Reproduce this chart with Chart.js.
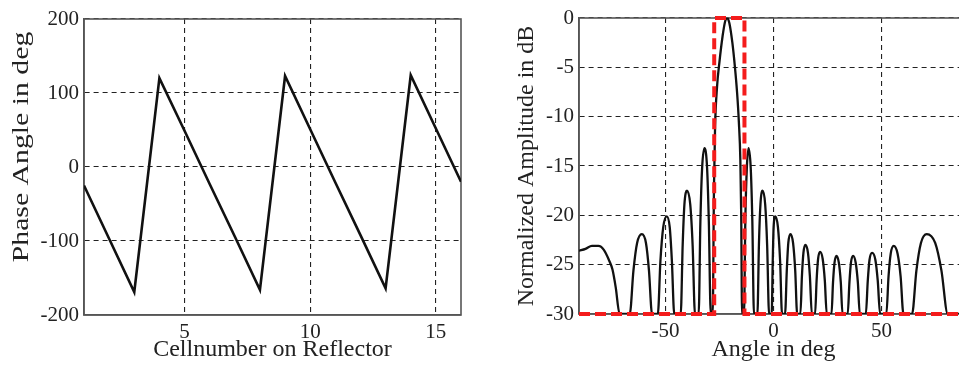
<!DOCTYPE html>
<html><head><meta charset="utf-8">
<script src="https://cdn.jsdelivr.net/npm/chart.js@4/dist/chart.umd.min.js"></script>
<style>
html,body{margin:0;padding:0;background:#fff;overflow:hidden;width:959px;height:367px;position:relative;}
#left{position:absolute;left:0;top:0;width:480px;height:367px;}
#right{position:absolute;left:480px;top:0;width:500px;height:367px;}
</style></head><body>
<div id="left"><canvas id="c1"></canvas></div>
<div id="right"><canvas id="c2"></canvas></div>
<script>
// ---- Left panel data ----
const cellNumbers = [1,2,3,4,5,6,7,8,9,10,11,12,13,14,15,16];
const phaseDeg    = [-25,-97,-169,120,49,-23,-94,-166,123,51,-21,-92,-164,124,52,-20];
const cellTicks   = [5,10,15];
const phaseTicks  = [-200,-100,0,100,200];

// ---- Right panel data ----
const patternAngle = [
  -90,-87,-84,-81,-78.5,-76,-74.5,-73,-71.2,
  -66.5,-64.8,-63.1,-60.9,-59.0,-57.6,-56.2,
  -53.5,-52.3,-51.0,-49.4,-48.0,-47.0,-45.9,
  -42.9,-42.0,-41.2,-40.0,-38.5,-37.4,-36.3,
  -34.6,-33.8,-33.0,-31.9,-30.7,-29.9,-29.0,
  -28.1,-27.5,-27.0,-26.1,-25.0,-23.5,-22.3,-21.4,-20.4,-19.0,-17.8,-16.8,-16.0,-15.3,-14.9,-14.5,
  -13.6,-13.0,-12.3,-11.5,-10.5,-9.75,-9.0,
  -7.4,-6.7,-6.0,-5.0,-3.8,-2.9,-2.0,
  -0.8,-0.3,0.1,0.9,2.1,3.1,4.0,
  5.4,6.2,6.9,7.9,9.1,10.1,11.0,
  12.5,13.2,13.9,14.8,16.0,16.9,17.8,
  19.3,20.0,20.7,21.6,22.8,23.8,24.7,
  26.9,27.6,28.3,29.2,30.3,31.2,32.0,
  34.4,35.2,35.9,36.9,38.1,39.1,40.0,
  42.8,43.7,44.5,45.7,47.2,48.3,49.4,
  52.3,53.3,54.3,55.7,57.5,58.9,60.2,
  64.2,66.2,68.3,71.0,74.9,77.8,80.7,
  90
];
const patternDb = [
  -23.6,-23.4,-23.1,-23.1,-23.5,-24.6,-25.5,-27.3,-30,
  -30,-25.6,-22.8,-21.9,-22.8,-25.6,-30,
  -30,-24.6,-21.2,-20.1,-21.2,-24.6,-30,
  -30,-23.0,-18.9,-17.5,-18.9,-23.0,-30,
  -30,-20.6,-15.2,-13.2,-15.2,-20.6,-30,
  -30,-17,-11,-7,-4.5,-1.8,-0.3,0,-0.5,-2.5,-5,-7.6,-10.5,-14.4,-20,-30,
  -30,-20.6,-15.2,-13.2,-15.2,-20.6,-30,
  -30,-23.0,-18.9,-17.5,-18.9,-23.0,-30,
  -30,-24.6,-21.2,-20.1,-21.2,-24.6,-30,
  -30,-25.6,-22.8,-21.9,-22.8,-25.6,-30,
  -30,-26.2,-23.8,-23.0,-23.8,-26.2,-30,
  -30,-26.6,-24.4,-23.7,-24.4,-26.6,-30,
  -30,-26.8,-24.8,-24.1,-24.8,-26.8,-30,
  -30,-26.8,-24.8,-24.1,-24.8,-26.8,-30,
  -30,-26.6,-24.5,-23.8,-24.5,-26.6,-30,
  -30,-26.2,-23.9,-23.1,-23.9,-26.2,-30,
  -30,-25.6,-22.8,-21.9,-22.8,-25.6,-30,
  -30
];
const maskAngle = [-90,-27.4,-27.4,-13.4,-13.4,90];
const maskDb    = [-30,-30,0,0,-30,-30];
const angleTicks = [-50,0,50];
const dbTicks    = [0,-5,-10,-15,-20,-25,-30];

const SERIF = "'Liberation Serif','Times New Roman',serif";
const TXT = '#222';

const framePlugin = {
  id:'frame',
  beforeDatasetsDraw(chart){
    const {ctx, chartArea:a} = chart;
    ctx.save();
    ctx.strokeStyle = '#555';
    ctx.lineWidth = 1.6;
    ctx.strokeRect(a.left, a.top, a.right - a.left, a.bottom - a.top);
    ctx.restore();
  }
};

// left y-axis title: drawn stretched along its length like the reference figure
const leftTitlePlugin = {
  id:'leftTitle',
  afterDraw(chart){
    const {ctx, chartArea:a} = chart;
    ctx.save();
    ctx.translate(22, (a.top + a.bottom)/2 - 20);
    ctx.rotate(-Math.PI/2);
    ctx.scale(1.24, 1);
    ctx.font = "24px " + SERIF;
    ctx.fillStyle = TXT;
    ctx.textAlign = 'center';
    ctx.textBaseline = 'middle';
    ctx.fillText('Phase Angle in deg', 0, 0);
    ctx.restore();
  }
};

function axisCommon(ticksArr, fitFn, titleText, titlePad, showTitle){
  return {
    type:'linear',
    afterBuildTicks: s => { s.ticks = ticksArr.map(v => ({value:v})); },
    afterFit: fitFn,
    grid:{color:'#222', lineWidth:1.1, drawTicks:false},
    border:{display:true, color:'#555', width:1.6, dash:[5,4]},
    ticks:{color:TXT, padding:5, autoSkip:false, maxRotation:0, font:{family:SERIF, size:21}},
    title:{display:showTitle !== false, text:titleText, color:TXT, font:{family:SERIF, size:24}, padding:titlePad}
  };
}

new Chart(document.getElementById('c1'), {
  type:'line',
  data:{datasets:[{
    data: cellNumbers.map((c,i)=>({x:c, y:phaseDeg[i]})),
    borderColor:'#111', borderWidth:2.6, pointRadius:0, tension:0
  }]},
  options:{
    responsive:true, maintainAspectRatio:false, animation:false,
    layout:{padding:{left:0, top:19, right:19, bottom:0}},
    plugins:{legend:{display:false}, tooltip:{enabled:false}},
    scales:{
      x: Object.assign(axisCommon(cellTicks, s=>{s.height=52;}, 'Cellnumber on Reflector', {top:0,bottom:3}), {min:1, max:16}),
      y: Object.assign(axisCommon(phaseTicks, s=>{s.width=84;}, 'Phase Angle in deg', {top:7,bottom:0}, false), {min:-200, max:200})
    }
  },
  plugins:[framePlugin, leftTitlePlugin]
});

new Chart(document.getElementById('c2'), {
  type:'line',
  data:{datasets:[
    {
      data: maskAngle.map((a,i)=>({x:a, y:maskDb[i]})),
      borderColor:'#f41c1c', borderWidth:4, borderDash:[11,5], pointRadius:0, tension:0, order:0, clip:false
    },
    {
      data: patternAngle.map((a,i)=>({x:a, y:patternDb[i]})),
      borderColor:'#111', borderWidth:2.3, pointRadius:0, cubicInterpolationMode:'monotone', order:1
    }
  ]},
  options:{
    responsive:true, maintainAspectRatio:false, animation:false,
    layout:{padding:{left:0, top:18, right:12.2, bottom:0}},
    plugins:{legend:{display:false}, tooltip:{enabled:false}},
    scales:{
      x: Object.assign(axisCommon(angleTicks, s=>{s.height=53;}, 'Angle in deg', {top:0,bottom:3}), {min:-90, max:90}),
      y: Object.assign(axisCommon(dbTicks, s=>{s.width=99;}, 'Normalized Amplitude in dB', {top:32,bottom:0}), {min:-30, max:0})
    }
  },
  plugins:[framePlugin]
});
</script>
</body></html>
